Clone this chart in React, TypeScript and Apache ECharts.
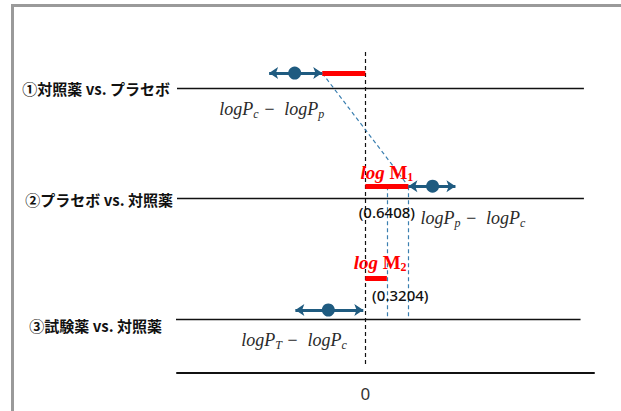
import React, { useEffect, useRef } from "react";
import * as echarts from "echarts";

// ---- data ----
const comparisons = ["①対照薬 vs. プラセボ", "②プラセボ vs. 対照薬", "③試験薬 vs. 対照薬"];
// log-scale estimates: [lower, point, upper]
const ciLower = [-1.43, 0.6408, -1.04];
const ciPoint = [-1.05, 1.0, -0.55];
const ciUpper = [-0.6408, 1.34, -0.03];
const logM1 = 0.6408;
const logM2 = 0.3204;
const zeroTick = 0;

// ---- layout (vertical levels on a hidden 0–100 axis) ----
const rowLineLevel = [79, 48.6, 15];
const rowMarkLevel = [83.3, 51.9, 17.5];
const m2Level = 26.4;
const X_MIN = -2.8;
const X_MAX = 3.4;
const LINE_END = 3.25;

const BLUE = "#1f5b80";
const DASH_BLUE = "#3b7fb0";
const RED = "#ff0000";

const mathRich = {
  i: { fontFamily: "Liberation Serif", fontStyle: "italic", fontSize: 18, color: "#2a2a2a", lineHeight: 22 },
  s: { fontFamily: "Liberation Serif", fontStyle: "italic", fontSize: 12, color: "#2a2a2a", lineHeight: 12, verticalAlign: "bottom" },
};
const redRich = {
  lg: { fontFamily: "Liberation Serif", fontStyle: "italic", fontWeight: "bold", fontSize: 19, color: RED, lineHeight: 22 },
  m: { fontFamily: "Liberation Serif", fontWeight: "bold", fontSize: 19, color: RED, lineHeight: 22 },
  s: { fontFamily: "Liberation Serif", fontWeight: "bold", fontSize: 12, color: RED, lineHeight: 12, verticalAlign: "bottom" },
};

const annotations = [
  { x: -1.39, y: 73.3, text: "{i|logP}{s|c}{i| −  logP}{s|p}", rich: mathRich },
  { x: 1.6, y: 43, text: "{i|logP}{s|p}{i| −  logP}{s|c}", rich: mathRich },
  { x: -1.06, y: 9.2, text: "{i|logP}{s|T}{i| −  logP}{s|c}", rich: mathRich },
  { x: 0.32, y: 55.8, text: "{lg|log }{m|M}{s|1}", rich: redRich },
  { x: 0.22, y: 30.8, text: "{lg|log }{m|M}{s|2}", rich: redRich },
  { x: 0.32, y: 44.7, text: `(${logM1.toFixed(4)})`, rich: {} },
  { x: 0.52, y: 21.7, text: `(${logM2.toFixed(4)})`, rich: {} },
];

export default function App() {
  const ref = useRef<HTMLDivElement>(null);
  useEffect(() => {
    if (!ref.current) return;
    const chart = echarts.init(ref.current, null, { renderer: "svg" });
    const lineSeries = (name: string, data: any[], lineStyle: any, extra: any = {}) => ({
      type: "lines",
      name,
      coordinateSystem: "cartesian2d",
      polyline: false,
      symbol: "none",
      lineStyle: { opacity: 1, curveness: 0, ...lineStyle },
      data,
      silent: true,
      ...extra,
    });
    chart.setOption({
      animation: false,
      grid: { left: 177, right: 27, top: 13, bottom: 38 },
      xAxis: {
        type: "value",
        min: X_MIN,
        max: X_MAX,
        interval: 0.4,
        axisLine: { lineStyle: { color: "#111", width: 2 } },
        axisTick: { show: false },
        splitLine: { show: false },
        axisLabel: {
          margin: 12,
          fontSize: 17,
          color: "#333",
          fontFamily: "Noto Sans",
          formatter: (v: number) => (Math.abs(v - zeroTick) < 1e-9 ? String(zeroTick) : ""),
        },
      },
      yAxis: { type: "value", min: 0, max: 100, show: false },
      graphic: [
        {
          type: "rect",
          shape: { x: 12.5, y: 5.5, width: 700, height: 500 },
          style: { fill: "none", stroke: "#9a9a9a", lineWidth: 3 },
          silent: true,
        },
      ],
      series: [
        lineSeries(
          "rows",
          rowLineLevel.map((l, i) => ({ coords: [[X_MIN - (i === 2 ? 0.03 : 0), l], [i === 2 ? LINE_END - 0.05 : LINE_END, l]] })),
          { color: "#111", width: 1.3, type: "solid" }
        ),
        lineSeries("zero", [{ coords: [[0, 89.2], [0, 2.2]] }], { color: "#111", width: 1.2, type: [4, 3] }),
        lineSeries(
          "connectors",
          [
            { coords: [[ciUpper[0], rowMarkLevel[0]], [logM1, rowMarkLevel[1]]] },
            { coords: [[logM2, rowMarkLevel[1]], [logM2, rowLineLevel[2]]] },
            { coords: [[logM1, rowMarkLevel[1]], [logM1, rowLineLevel[2]]] },
          ],
          { color: DASH_BLUE, width: 1.2, type: [4, 3] }
        ),
        lineSeries(
          "margins",
          [
            { coords: [[-logM1, rowMarkLevel[0]], [0, rowMarkLevel[0]]] },
            { coords: [[0, rowMarkLevel[1]], [logM1, rowMarkLevel[1]]] },
            { coords: [[0, m2Level], [logM2, m2Level]] },
          ],
          { color: RED, width: 5, type: "solid" },
          { z: 3 }
        ),
        lineSeries(
          "ci",
          ciLower.map((lo, i) => ({ coords: [[lo, rowMarkLevel[i]], [ciUpper[i], rowMarkLevel[i]]] })),
          { color: BLUE, width: 3, type: "solid" },
          { symbol: ["arrow", "arrow"], symbolSize: 9, z: 4 }
        ),
        {
          type: "scatter",
          name: "point",
          symbol: "circle",
          symbolSize: 13,
          itemStyle: { color: BLUE, opacity: 1 },
          data: ciPoint.map((p, i) => [p, rowMarkLevel[i]]),
          silent: true,
          z: 5,
        },
        {
          type: "scatter",
          name: "annotations",
          symbolSize: 0,
          silent: true,
          itemStyle: { opacity: 1 },
          data: annotations.map((a) => ({
            value: [a.x, a.y],
            label: {
              show: true,
              position: "inside",
              formatter: a.text,
              rich: a.rich,
              fontFamily: "Noto Sans",
              fontSize: 15,
              fontWeight: 500,
              color: "#111",
            },
          })),
          z: 6,
        },
        {
          type: "scatter",
          name: "rowLabels",
          symbolSize: 0,
          silent: true,
          itemStyle: { opacity: 1 },
          data: comparisons.map((c, i) => ({
            value: [X_MIN, rowLineLevel[i]],
            label: {
              show: true,
              position: "left",
              distance: i === 2 ? 15 : i === 1 ? 4 : 7,
              offset: i === 2 ? [0, 6] : i === 1 ? [0, 1] : [0, 0],
              formatter: c,
              fontFamily: "Noto Sans CJK JP",
              fontWeight: "bold",
              fontSize: 15,
              color: "#111",
            },
          })),
        },
      ],
    });
    return () => chart.dispose();
  }, []);
  return <div ref={ref} style={{ position: "absolute", left: 0, top: 0, width: 621, height: 411 }} />;
}
